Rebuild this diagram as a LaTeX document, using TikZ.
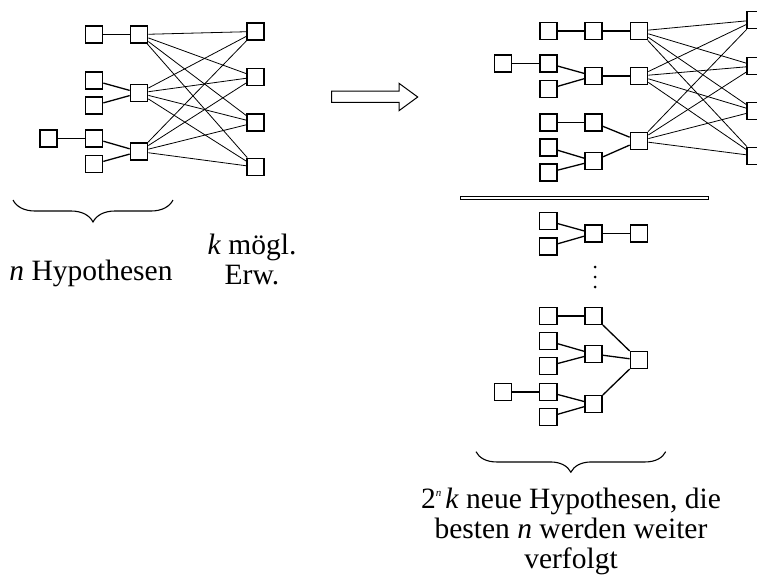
\documentclass[tikz,border=0pt]{standalone}
\usepackage{fontspec}
\setmainfont{Liberation Serif}
\usetikzlibrary{decorations.pathreplacing}
\begin{document}
\begin{tikzpicture}[x=1pt,y=-1pt,
  box/.style={draw, line width=1.4pt, minimum size=17.3pt, inner sep=0pt},
  link/.style={line width=1.3pt},
  cross/.style={line width=0.8pt},
  lbl/.style={font=\fontsize{29.5}{30}\selectfont, inner sep=0pt},
  bracestyle/.style={decorate, line width=1.1pt, decoration={brace, amplitude=#1, mirror}}]
\useasboundingbox (0,0) rectangle (757,578);

% ---------- left: n hypotheses with k possible extensions ----------
\node[box] (La1) at (94,34.5) {};
\node[box] (La2) at (139,34.5) {};
\node[box] (Lb1) at (94,80.5) {};
\node[box] (Lb2) at (94,105.5) {};
\node[box] (Lbm) at (139,93) {};
\node[box] (Lc0) at (48.5,138.5) {};
\node[box] (Lc1) at (94,138.5) {};
\node[box] (Lc2) at (94,164) {};
\node[box] (Lcm) at (139,151.5) {};
\node[box] (Lr1) at (255.5,31.5) {};
\node[box] (Lr2) at (255.5,77) {};
\node[box] (Lr3) at (255.5,122.5) {};
\node[box] (Lr4) at (255.5,167) {};

\draw[link] (La1) -- (La2);
\draw[link] (Lb1) -- (Lbm);
\draw[link] (Lb2) -- (Lbm);
\draw[link] (Lc0) -- (Lc1);
\draw[link] (Lc1) -- (Lcm);
\draw[link] (Lc2) -- (Lcm);
\foreach \m in {La2,Lbm,Lcm}
  \foreach \r in {Lr1,Lr2,Lr3,Lr4}
    \draw[cross] (\m) -- (\r);

\draw[bracestyle=22pt] (13,200) -- (173,200);
\node[lbl, anchor=base] (hyp) at (91,280.7) {\textit{n} Hypothesen};
\node[lbl, anchor=base, align=center] (erw) at (252,284) {\textit{k} mögl.\\Erw.};

% ---------- arrow ----------
\draw[line width=1pt, line join=miter] (331.7,91) -- (399,91) -- (399,83.3)
  -- (417.7,97) -- (399,110.7) -- (399,102.3) -- (331.7,102.3) -- cycle;

% ---------- right top: all extended hypotheses ----------
\node[box] (Ra1) at (548.5,31) {};
\node[box] (Ra2) at (593.5,31) {};
\node[box] (Ra3) at (639,31) {};
\node[box] (Rb0) at (503,63.5) {};
\node[box] (Rb1) at (548.5,63.5) {};
\node[box] (Rb2) at (548.5,89) {};
\node[box] (Rbm) at (593.5,76) {};
\node[box] (Rb3) at (639,76) {};
\node[box] (Rc1) at (548.5,122.5) {};
\node[box] (Rc2) at (593.5,122.5) {};
\node[box] (Rd1) at (548.5,147.5) {};
\node[box] (Rd2) at (548.5,172.5) {};
\node[box] (Rdm) at (593.5,161) {};
\node[box] (Rc3) at (639,141) {};
\node[box] (Rr1) at (755.7,20) {};
\node[box] (Rr2) at (755.7,66) {};
\node[box] (Rr3) at (755.7,111) {};
\node[box] (Rr4) at (755.7,156) {};

\draw[link] (Ra1) -- (Ra2);
\draw[link] (Ra2) -- (Ra3);
\draw[link] (Rb0) -- (Rb1);
\draw[link] (Rb1) -- (Rbm);
\draw[link] (Rb2) -- (Rbm);
\draw[link] (Rbm) -- (Rb3);
\draw[link] (Rc1) -- (Rc2);
\draw[link] (Rc2) -- (Rc3);
\draw[link] (Rd1) -- (Rdm);
\draw[link] (Rd2) -- (Rdm);
\draw[link] (Rdm) -- (Rc3);
\foreach \m in {Ra3,Rb3,Rc3}
  \foreach \r in {Rr1,Rr2,Rr3,Rr4}
    \draw[cross] (\m) -- (\r);

% ---------- separator ----------
\draw[line width=1pt] (460.5,196.2) rectangle (708,199.6);

% ---------- right bottom: examples of new hypotheses ----------
\node[box] (Ta) at (548.3,221) {};
\node[box] (Tb) at (548.3,246.5) {};
\node[box] (Tm) at (593.5,233.5) {};
\node[box] (Tr) at (639,233.5) {};
\draw[link] (Ta) -- (Tm);
\draw[link] (Tb) -- (Tm);
\draw[link] (Tm) -- (Tr);

\fill (595,267) circle (1.5pt);
\fill (595,277) circle (1.5pt);
\fill (595,287) circle (1.5pt);

\node[box] (Ba1) at (548.3,316) {};
\node[box] (Ba2) at (593.5,316) {};
\node[box] (Bb1) at (548.3,341) {};
\node[box] (Bb2) at (548.3,366) {};
\node[box] (Bbm) at (593.5,354) {};
\node[box] (Bc0) at (503,392) {};
\node[box] (Bc1) at (548.3,392) {};
\node[box] (Bc2) at (548.3,417) {};
\node[box] (Bcm) at (593.5,404) {};
\node[box] (Br) at (639,360) {};
\draw[link] (Ba1) -- (Ba2);
\draw[link] (Bb1) -- (Bbm);
\draw[link] (Bb2) -- (Bbm);
\draw[link] (Bc0) -- (Bc1);
\draw[link] (Bc1) -- (Bcm);
\draw[link] (Bc2) -- (Bcm);
\draw[link] (Ba2) -- (Br);
\draw[link] (Bbm) -- (Br);
\draw[link] (Bcm) -- (Br);

\draw[bracestyle=20.5pt] (476,451.7) -- (665.7,451.7);
\node[lbl, anchor=base, align=center] (neu) at (571,568)
  {2\raisebox{0.85ex}{\fontsize{11}{11}\selectfont\textit{n}}\hspace{4pt}\textit{k} neue Hypothesen, die\\
   besten \textit{n} werden weiter\\verfolgt};
\end{tikzpicture}
\end{document}
